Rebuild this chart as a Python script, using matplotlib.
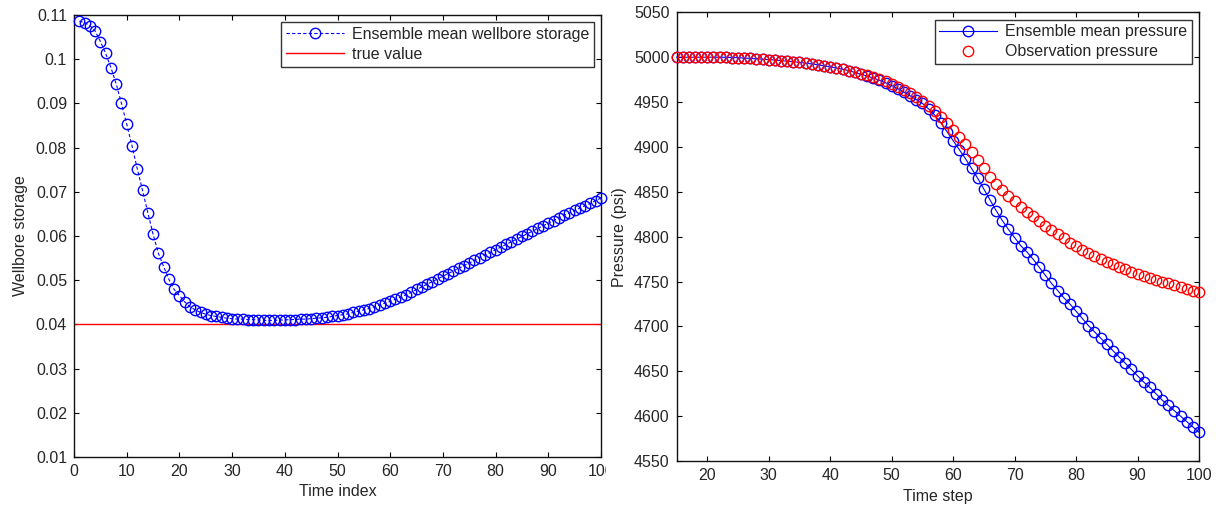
import matplotlib
matplotlib.use("Agg")
import matplotlib.pyplot as plt
from matplotlib.ticker import FormatStrFormatter
from matplotlib.transforms import Bbox, TransformedBbox

# ── data : left panel (wellbore storage) ─────────────────────────────────────
time_index = list(range(1, 101))
storage_mean = [
    0.1086, 0.1083, 0.1076, 0.1064, 0.1040, 0.1013, 0.0981, 0.0944, 0.0900, 0.0853,
    0.0804, 0.0752, 0.0703, 0.0653, 0.0604, 0.0561, 0.0531, 0.0502, 0.0479, 0.0465,
    0.0451, 0.0440, 0.0433, 0.0427, 0.0423, 0.0420, 0.0418, 0.0416, 0.0414, 0.0413,
    0.0412, 0.0412, 0.0411, 0.0411, 0.0410, 0.0409, 0.0409, 0.0409, 0.0410, 0.0410,
    0.0411, 0.0411, 0.0412, 0.0412, 0.0413, 0.0414, 0.0415, 0.0416, 0.0418, 0.0420,
    0.0422, 0.0424, 0.0427, 0.0430, 0.0433, 0.0436, 0.0440, 0.0444, 0.0448, 0.0452,
    0.0457, 0.0462, 0.0467, 0.0473, 0.0479, 0.0485, 0.0491, 0.0497, 0.0503, 0.0509,
    0.0515, 0.0521, 0.0527, 0.0533, 0.0539, 0.0545, 0.0551, 0.0557, 0.0563, 0.0569,
    0.0575, 0.0581, 0.0587, 0.0593, 0.0599, 0.0605, 0.0611, 0.0617, 0.0623, 0.0629,
    0.0635, 0.0641, 0.0647, 0.0652, 0.0658, 0.0663, 0.0669, 0.0674, 0.0680, 0.0686,
]
true_storage = 0.04

# ── data : right panel (pressure) ────────────────────────────────────────────
time_step = list(range(15, 101))
pressure_obs = [
    5000.0, 5000.0, 5000.0, 5000.0, 5000.0, 5000.0, 5000.0, 5000.0,
    4999.8, 4999.6, 4999.4, 4999.0, 4998.6, 4998.2, 4997.8, 4997.3,
    4996.8, 4996.2, 4995.6, 4995.0, 4994.2, 4993.4, 4992.5, 4991.5, 4990.4, 4989.2,
    4988.0, 4986.6, 4985.1, 4983.5, 4981.8, 4980.0, 4978.0, 4975.7, 4973.2, 4970.4,
    4967.3, 4963.8, 4960.0, 4955.6, 4950.8, 4945.5, 4939.7, 4933.3, 4926.3, 4919.0,
    4911.0, 4903.0, 4894.0, 4885.0, 4876.0, 4867.0, 4859.0, 4852.0, 4845.5, 4839.5,
    4833.5, 4828.0, 4822.5, 4817.0, 4812.0, 4807.0, 4802.5, 4798.0, 4793.5, 4789.5,
    4785.5, 4782.0, 4778.5, 4775.0, 4772.0, 4769.0, 4766.0, 4763.5, 4761.0, 4758.5,
    4756.0, 4754.0, 4752.0, 4750.0, 4748.0, 4746.0, 4744.0, 4742.0, 4740.0, 4738.5,
]
pressure_mean = pressure_obs[:29] + [
    4983.0, 4981.0, 4979.0, 4976.8, 4974.3, 4971.5, 4968.4,
    4965.0, 4961.2, 4957.0, 4952.8, 4948.5, 4942.5, 4935.5, 4927.0, 4917.0, 4907.0,
    4897.0, 4887.0, 4876.0, 4865.0, 4853.0, 4841.0, 4829.0, 4818.0, 4808.0, 4799.0,
    4790.0, 4783.0, 4775.0, 4766.0, 4757.0, 4748.0, 4740.0, 4732.0, 4725.0, 4717.0,
    4709.0, 4701.0, 4694.0, 4687.0, 4680.0, 4673.0, 4666.0, 4659.0, 4652.0, 4645.0,
    4638.0, 4632.0, 4625.0, 4618.0, 4612.0, 4606.0, 4600.0, 4594.0, 4588.0, 4582.0,
]

storage_yticks = [0.01, 0.02, 0.03, 0.04, 0.05, 0.06, 0.07, 0.08, 0.09, 0.10, 0.11]
storage_xticks = list(range(0, 101, 10))
pressure_yticks = list(range(4550, 5051, 50))
pressure_xticks = list(range(20, 101, 10))

# ── style ────────────────────────────────────────────────────────────────────
FS = 11.5
plt.rcParams['font.family'] = ['Liberation Sans', 'DejaVu Sans']
plt.rcParams['font.size'] = FS
BLUE = '#0000ff'
RED = '#ff0000'
TXT = '#262626'
MS = 7.5


def matlab_axes(ax):
    ax.tick_params(direction='in', top=True, right=True, length=3.8,
                   width=0.8, labelsize=FS, colors='black', labelcolor=TXT, pad=5)
    for sp in ax.spines.values():
        sp.set_linewidth(1.0)
        sp.set_color('#111111')


fig = plt.figure(figsize=(12.16, 5.05), dpi=100)
ax1 = fig.add_axes([0.0609, 0.0950, 0.4333, 0.8753])
ax2 = fig.add_axes([0.5564, 0.0871, 0.4296, 0.8885])

# ── left : wellbore storage ──────────────────────────────────────────────────
ax1.plot(time_index, storage_mean, color=BLUE, ls='--', dashes=(3, 2), lw=0.8,
         marker='o', ms=MS, mfc='none', mec=BLUE, mew=1.0, clip_on=False,
         label='Ensemble mean wellbore storage', zorder=3)
ax1.axhline(true_storage, color=RED, lw=1.0, label='true value', zorder=2)
ax1.set_xlim(0, 100)
ax1.set_ylim(0.01, 0.11)
ax1.set_xticks(storage_xticks)
ax1.set_yticks(storage_yticks)
ax1.yaxis.set_major_formatter(FormatStrFormatter('%g'))
matlab_axes(ax1)
ax1.set_xlabel('Time index', color=TXT)
ax1.set_ylabel('Wellbore storage', color=TXT)
ax1.xaxis.set_label_coords(0.5, -0.062)
ax1.yaxis.set_label_coords(-0.087, 0.5)
leg1 = ax1.legend(loc='upper right', fontsize=FS, frameon=True, fancybox=False,
                  edgecolor='black', borderaxespad=0.45, handlelength=3.6,
                  labelspacing=0.3, borderpad=0.3, handletextpad=0.5)
leg1.get_frame().set_linewidth(1.0)
for t in leg1.get_texts():
    t.set_color(TXT)

# the last x tick label is cut at the panel border in the reference
clip = TransformedBbox(Bbox([[0.0, 0.0], [606 / 1216, 1.0]]), fig.transFigure)
for lab in ax1.get_xticklabels():
    lab.set_clip_box(clip)
    lab.set_clip_on(True)

# ── right : pressure ─────────────────────────────────────────────────────────
ax2.plot(time_step, pressure_mean, color=BLUE, lw=0.8, marker='o', ms=MS,
         mfc='none', mec=BLUE, mew=1.0, clip_on=False,
         label='Ensemble mean pressure', zorder=3)
ax2.plot(time_step, pressure_obs, ls='none', marker='o', ms=MS, mfc='none',
         mec=RED, mew=1.0, clip_on=False, label='Observation pressure', zorder=4)
ax2.set_xlim(15, 100)
ax2.set_ylim(4550, 5050)
ax2.set_xticks(pressure_xticks)
ax2.set_yticks(pressure_yticks)
matlab_axes(ax2)
ax2.set_xlabel('Time step', color=TXT)
ax2.set_ylabel('Pressure (psi)', color=TXT)
ax2.xaxis.set_label_coords(0.5, -0.062)
ax2.yaxis.set_label_coords(-0.095, 0.5)
leg2 = ax2.legend(loc='upper right', fontsize=FS, frameon=True, fancybox=False,
                  edgecolor='black', borderaxespad=0.45, handlelength=3.6,
                  labelspacing=0.3, borderpad=0.3, handletextpad=0.5)
leg2.get_frame().set_linewidth(1.0)
for t in leg2.get_texts():
    t.set_color(TXT)

fig.savefig('out.png', dpi=100)
